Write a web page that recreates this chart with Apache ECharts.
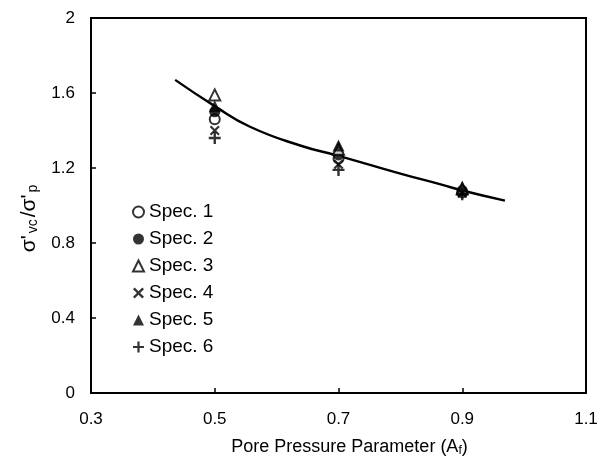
<!DOCTYPE html>
<html>
<head>
<meta charset="utf-8">
<script src="https://cdn.jsdelivr.net/npm/echarts@6/dist/echarts.min.js"></script>
<style>html,body{margin:0;padding:0;background:#fff;}#c{width:609px;height:470px;}</style>
</head>
<body>
<div id="c"></div>
<script>
var xTicks = [0.3, 0.5, 0.7, 0.9, 1.1];
var yTicks = [0, 0.4, 0.8, 1.2, 1.6, 2];
var afValues = [0.5, 0.7, 0.9];
var spec1 = [1.46, 1.25, 1.07];
var spec2 = [1.50, 1.27, 1.08];
var spec3 = [1.59, 1.30, 1.09];
var spec4 = [1.40, 1.22, 1.065];
var spec5 = [1.53, 1.32, 1.10];
var spec6 = [1.36, 1.19, 1.06];
var curveX = [0.436, 0.5, 0.557, 0.638, 0.7, 0.8, 0.868, 0.9, 0.969];
var curveY = [1.67, 1.53, 1.42, 1.32, 1.265, 1.17, 1.11, 1.08, 1.026];
var specNames = ['Spec. 1', 'Spec. 2', 'Spec. 3', 'Spec. 4', 'Spec. 5', 'Spec. 6'];

var xSym = 'path://M1.5,0L5,3.5L8.5,0L10,1.5L6.5,5L10,8.5L8.5,10L5,6.5L1.5,10L0,8.5L3.5,5L0,1.5Z';
var plusSym = 'path://M4,0H6V4H10V6H6V10H4V6H0V4H4Z';

function pairs(xs, ys) { return xs.map(function (x, i) { return [x, ys[i]]; }); }

var specData = [spec1, spec2, spec3, spec4, spec5, spec6];
var symbols = ['emptyCircle', 'circle', 'emptyTriangle', xSym, 'triangle', plusSym];
var sizes = [10, 11, 11, 10, 12, 12];

var series = specData.map(function (d, i) {
  var empty = symbols[i].indexOf('empty') === 0;
  return {
    name: specNames[i],
    type: 'scatter',
    data: pairs(afValues, d),
    symbol: symbols[i],
    symbolSize: sizes[i],
    itemStyle: { color: '#000', borderColor: '#000', borderWidth: empty ? 2 : 0 },
    z: 3
  };
});
series.push({
  name: 'fit',
  type: 'line',
  data: pairs(curveX, curveY),
  smooth: true,
  showSymbol: false,
  lineStyle: { color: '#000', width: 2.4 },
  z: 2
});

var FONT = 'Liberation Sans, Arial, sans-serif';
var chart = echarts.init(document.getElementById('c'));
chart.setOption({
  animation: false,
  backgroundColor: '#fff',
  textStyle: { fontFamily: FONT, color: '#000' },
  grid: { left: 91, right: 23, top: 18, bottom: 77, show: true, borderColor: '#000', borderWidth: 2, backgroundColor: 'transparent' },
  legend: {
    data: specNames.map(function (n, i) { return { name: n, icon: symbols[i], itemStyle: { color: '#000', borderColor: '#000', borderWidth: symbols[i].indexOf('empty') === 0 ? 2 : 0 } }; }),
    orient: 'vertical',
    left: 127,
    top: 197,
    itemWidth: 11,
    itemHeight: 11,
    itemGap: 7,
    textStyle: { fontSize: 19, lineHeight: 20, color: '#000', fontFamily: FONT },
    selectedMode: false
  },
  xAxis: {
    type: 'value',
    min: xTicks[0],
    max: xTicks[xTicks.length - 1],
    interval: 0.2,
    name: '{a|Pore Pressure Parameter (A}{s|f}{a|)}',
    nameLocation: 'middle',
    nameGap: 44,
    nameTextStyle: { padding: [0, 0, 0, 22], rich: { a: { fontSize: 18, color: '#000', fontFamily: FONT }, s: { fontSize: 12, color: '#000', fontFamily: FONT, padding: [8, 0, 0, 0] } } },
    axisLine: { show: true, lineStyle: { color: '#000', width: 2 } },
    axisTick: { show: true, inside: true, length: 5, lineStyle: { color: '#000', width: 1.5 } },
    axisLabel: { fontSize: 17, color: '#000', margin: 18, fontFamily: FONT, formatter: function (v) { return v.toFixed(1); } },
    splitLine: { show: false }
  },
  yAxis: {
    type: 'value',
    min: yTicks[0],
    max: yTicks[yTicks.length - 1],
    interval: 0.4,
    name: "{a|σ'}{s|vc}{a|/σ'}{s|p}",
    nameLocation: 'middle',
    nameGap: 50,
    nameRotate: 90,
    nameTextStyle: { padding: [0, 24, 0, 0], rich: { a: { fontSize: 21, color: '#000', fontFamily: FONT }, s: { fontSize: 14, color: '#000', fontFamily: FONT, padding: [9, 2, 0, 2] } } },
    axisLine: { show: true, lineStyle: { color: '#000', width: 2 } },
    axisTick: { show: true, inside: true, length: 5, lineStyle: { color: '#000', width: 1.5 } },
    axisLabel: { fontSize: 17, color: '#000', margin: 16, fontFamily: FONT, formatter: function (v) { return v === 0 || v === 2 ? String(v) : v.toFixed(1); } },
    splitLine: { show: false }
  },
  series: series
});
</script>
</body>
</html>
